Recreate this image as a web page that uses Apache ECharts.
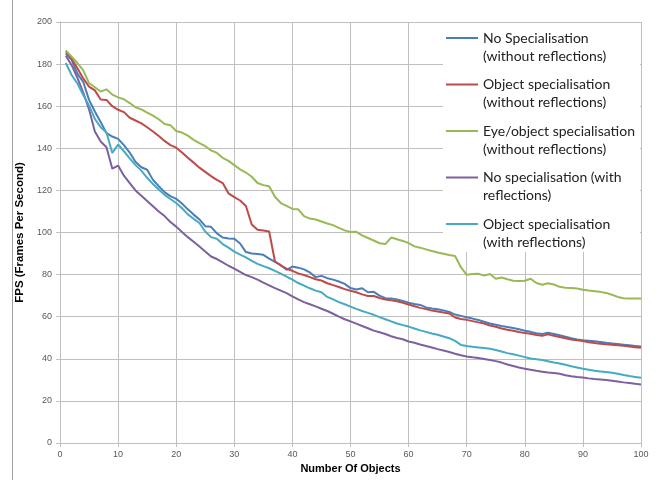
<!DOCTYPE html>
<html>
<head>
<meta charset="utf-8">
<script src="https://cdn.jsdelivr.net/npm/echarts@6/dist/echarts.min.js"></script>
<style>
  html, body { margin: 0; padding: 0; background: #fff; }
  #chart { width: 660px; height: 480px; }
</style>
</head>
<body>
<div id="chart"></div>
<script>
// number of objects, 1..100
const objects = Array.from({ length: 100 }, (_, i) => i + 1);

const seriesNames = [
    'No Specialisation\n(without reflections)',
    'Object specialisation\n(without reflections)',
    'Eye/object specialisation\n(without reflections)',
    'No specialisation (with\nreflections)',
    'Object specialisation\n(with reflections)'
];
const seriesColors = ['#4a7ebb', '#be4b48', '#98b954', '#7d60a0', '#46aac5'];

const noSpecNoRefl = [
    185, 182, 175.5, 171.5, 163, 157.5, 152.5, 147.2, 145.6, 144.5,
    141.5, 138, 133.5, 131, 129.8, 125, 122, 119.2, 117.3, 116,
    113.8, 111, 108.5, 106.2, 103, 102.7, 99.6, 97.6, 97.2, 97,
    94.8, 90.7, 90, 89.8, 89.4, 87.6, 86, 84.6, 82.3, 83.8,
    83.3, 82.5, 81, 78.8, 79.4, 78.3, 77.6, 76.7, 75.6, 73.6,
    72.9, 73.5, 71.6, 71.8, 70, 68.8, 68.7, 68.2, 67.5, 66.6,
    66, 65.6, 64.4, 63.9, 63.5, 63, 62.3, 61, 60.4, 59.7,
    59.1, 58.4, 57.6, 56.8, 56.2, 55.6, 55.1, 54.6, 54, 53.3,
    52.8, 52.1, 51.8, 52.4, 51.8, 51.2, 50.5, 49.8, 49.2, 48.8,
    48.6, 48.3, 48, 47.6, 47.3, 47, 46.7, 46.4, 46.1, 45.8
];
const objSpecNoRefl = [
    186, 182.5, 178, 173.2, 169.3, 167.5, 163.2, 163, 160, 158.3,
    157.2, 154.5, 153.2, 151.8, 150, 148, 145.8, 143.5, 141.5, 140.3,
    138, 135.5, 133.2, 130.8, 128.8, 126.8, 125, 123.5, 118.6, 116.8,
    115.2, 112.6, 103.8, 101.3, 100.9, 100.5, 86.2, 84.3, 82.8, 81.8,
    80.6, 79.8, 78.8, 77.8, 77.2, 75.9, 75, 74.1, 73.1, 72.3,
    71.6, 70.6, 69.8, 69.8, 68.9, 68.2, 67.8, 67.3, 66.6, 65.8,
    65, 64.2, 63.6, 62.9, 62.5, 62, 61.5, 59.6, 58.9, 58.5,
    57.9, 57.3, 56.8, 55.8, 55.2, 54.4, 53.8, 53.3, 52.7, 52.2,
    51.9, 51.3, 50.9, 51.6, 50.9, 50.4, 49.8, 49.2, 48.8, 48.4,
    47.9, 47.5, 47.2, 46.9, 46.7, 46.4, 46.2, 45.8, 45.5, 45.2
];
const eyeObjSpecNoRefl = [
    186.5, 183.5, 180.5, 177, 171, 169, 167, 168, 165.5, 164.2,
    163.3, 161.5, 159.5, 158.5, 157, 155.5, 153.8, 151.5, 151, 148.2,
    147.5, 146, 144, 142.5, 141, 139, 137.8, 135.5, 134, 132,
    130, 128.5, 126.5, 123.5, 122.5, 122, 117, 114, 112.6, 111.2,
    111, 107.8, 106.6, 106.2, 105.2, 104.3, 103.5, 102.2, 101, 100.2,
    100.3, 98.6, 97.4, 96.2, 94.9, 94.5, 97.6, 96.8, 96, 95,
    93.4, 92.8, 92, 91.2, 90.5, 89.9, 89.3, 88.8, 83.5, 79.9,
    80.3, 80.4, 79.5, 80.3, 78, 78.6, 77.8, 77.1, 77, 77.1,
    78, 76, 75.2, 75.9, 75.3, 74.2, 73.8, 73.6, 73.4, 72.8,
    72.4, 72.1, 71.8, 71.3, 70.4, 69.4, 68.8, 68.6, 68.6, 68.6
];
const noSpecRefl = [
    184, 179.5, 173.5, 166.5, 158.5, 148, 143.2, 140.5, 130.3, 131.8,
    127, 123.5, 120, 117.5, 115, 112.5, 110, 107.8, 105, 102.8,
    100.2, 97.8, 95.6, 93.3, 91, 88.6, 87.4, 85.8, 84.2, 82.8,
    81.3, 79.8, 78.8, 77.6, 76.2, 74.9, 73.6, 72.4, 71.2, 69.7,
    68.2, 66.9, 65.9, 64.9, 63.8, 62.7, 61.4, 60, 58.8, 57.8,
    56.7, 55.6, 54.5, 53.4, 52.6, 51.8, 50.7, 49.9, 49.3, 48.2,
    47.6, 46.8, 46.1, 45.4, 44.6, 43.9, 43.2, 42.4, 41.7, 41.1,
    40.7, 40.4, 39.9, 39.4, 38.9, 38.2, 37.3, 36.6, 35.9, 35.3,
    34.8, 34.3, 33.9, 33.5, 33.2, 32.9, 32.2, 31.7, 31.3, 31.1,
    30.7, 30.4, 30.2, 29.9, 29.6, 29.2, 28.8, 28.5, 28.1, 27.8
];
const objSpecRefl = [
    180.5, 174.8, 170.8, 165.3, 160.3, 154, 150, 147.5, 137.8, 141.8,
    138.6, 135.2, 132, 129.4, 126, 123, 120.4, 117.9, 115.9, 114,
    111.5, 108.6, 106.5, 104.5, 100.5, 97.8, 97, 94.5, 92.8, 90.9,
    89.5, 88.2, 86.5, 85.1, 84, 83, 81.8, 80.5, 79, 77.6,
    76, 74.8, 73.5, 72.4, 71.6, 69.4, 68.2, 66.9, 65.9, 64.8,
    63.7, 62.7, 61.8, 60.9, 59.8, 58.8, 57.8, 56.8, 56, 55.3,
    54.4, 53.5, 52.8, 52, 51.4, 50.6, 49.8, 48.5, 46.6, 46.1,
    45.7, 45.4, 45.1, 44.8, 44.2, 43.5, 42.7, 42.2, 41.5, 40.8,
    40.1, 39.8, 39.4, 38.8, 38.2, 37.8, 37.2, 36.5, 35.9, 35.3,
    34.8, 34.3, 34, 33.7, 33.4, 32.9, 32.3, 31.8, 31.4, 31
];

const allValues = [noSpecNoRefl, objSpecNoRefl, eyeObjSpecNoRefl, noSpecRefl, objSpecRefl];

const chart = echarts.init(document.getElementById('chart'));
const axisGrey = '#bfbfbf';

chart.setOption({
    animation: false,
    backgroundColor: '#fff',
    grid: { left: 60, right: 19, top: 22, bottom: 37 },
    xAxis: {
        type: 'value',
        min: 0,
        max: 100,
        interval: 10,
        name: 'Number Of Objects',
        nameLocation: 'middle',
        nameGap: 19,
        nameTextStyle: { fontFamily: 'Liberation Sans', fontWeight: 'bold', fontSize: 11, color: '#000' },
        axisLine: { lineStyle: { color: axisGrey } },
        axisTick: { show: true, length: 4, lineStyle: { color: axisGrey } },
        axisLabel: { fontFamily: 'Liberation Sans', fontSize: 9, color: '#595959', margin: 7 },
        splitLine: { show: true, lineStyle: { color: axisGrey, width: 1 } }
    },
    yAxis: {
        type: 'value',
        min: 0,
        max: 200,
        interval: 20,
        name: 'FPS (Frames Per Second)',
        nameLocation: 'middle',
        nameGap: 28,
        nameTextStyle: { fontFamily: 'Liberation Sans', fontWeight: 'bold', fontSize: 11.5, color: '#000' },
        axisLine: { show: true, lineStyle: { color: axisGrey } },
        axisTick: { show: true, length: 4, lineStyle: { color: axisGrey } },
        axisLabel: { fontFamily: 'Liberation Sans', fontSize: 9, color: '#595959', margin: 8 },
        splitLine: { show: true, lineStyle: { color: axisGrey, width: 1 } }
    },
    legend: {
        orient: 'vertical',
        left: 446,
        top: 11,
        padding: 0,
        itemGap: -7.5,
        itemWidth: 32,
        itemHeight: 2,
        icon: 'rect',
        data: seriesNames,
        // blank first line so the swatch lines up with the first text line
        formatter: (name) => '\n' + name,
        textStyle: {
            fontFamily: 'Lato',
            fontSize: 14,
            color: '#222',
            lineHeight: 18
        }
    },
    graphic: [
        {
            type: 'rect',
            z: 3,
            shape: { x: 443, y: 23, width: 197, height: 229 },
            style: { fill: '#fff' }
        },
        {
            type: 'line',
            shape: { x1: 12.5, y1: 0, x2: 12.5, y2: 480 },
            style: { stroke: '#a0a0a0', lineWidth: 1 }
        }
    ],
    series: allValues.map((vals, k) => ({
        name: seriesNames[k],
        type: 'line',
        symbol: 'none',
        color: seriesColors[k],
        lineStyle: { width: 2, color: seriesColors[k] },
        data: objects.map((x, i) => [x, vals[i]])
    }))
});
</script>
</body>
</html>
